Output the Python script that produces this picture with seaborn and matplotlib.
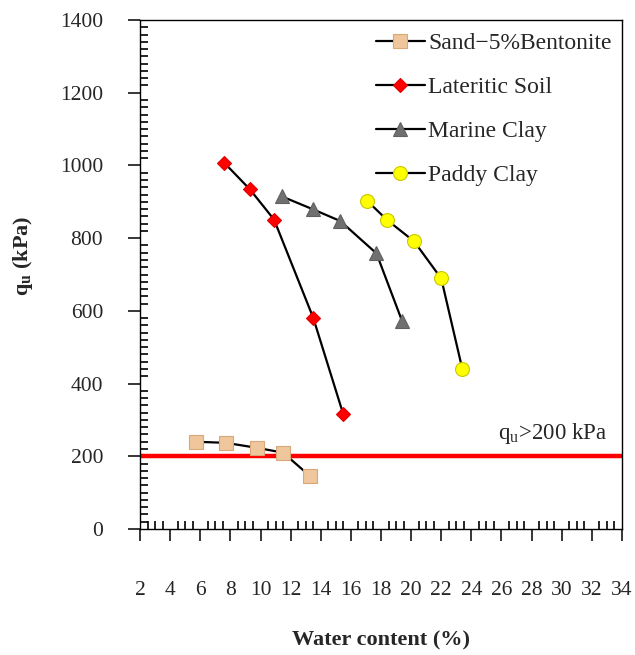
import matplotlib
matplotlib.use("Agg")
import matplotlib.pyplot as plt
import matplotlib.patheffects as pe
import seaborn as sns
import pandas as pd
from matplotlib.ticker import MultipleLocator

# ---- data ----
sand_w = [5.7, 7.7, 9.8, 11.5, 13.3]
sand_q = [240, 237, 223, 210, 145]

lat_w = [7.6, 9.3, 10.9, 13.5, 15.5]
lat_q = [1007, 934, 851, 581, 315]

mar_w = [11.4, 13.5, 15.3, 17.7, 19.4]
mar_q = [915, 879, 847, 758, 572]

pad_w = [17.1, 18.4, 20.2, 22.0, 23.4]
pad_q = [902, 850, 791, 689, 440]

labels = ["Sand\u22125%Bentonite", "Lateritic Soil", "Marine Clay", "Paddy Clay"]
x_ticks = list(range(2, 35, 2))
y_ticks = list(range(0, 1401, 200))
threshold = 200
threshold_label = r"q$_\mathregular{u}$>200 kPa"

sns.set_theme(style="white")
plt.rcParams["font.family"] = ["Liberation Serif", "DejaVu Serif"]
plt.rcParams["mathtext.fontset"] = "custom"
plt.rcParams["mathtext.rm"] = "Liberation Serif"
plt.rcParams["mathtext.bf"] = "Liberation Serif:bold"

fig = plt.figure(figsize=(6.35, 6.55), dpi=100)
ax = fig.add_axes([140/635, 1-529/655, (622-140)/635, (529-20)/655])

styles = [
    dict(marker="s", markersize=9.5, markerfacecolor="#F0C69C", markeredgecolor="#D8A878"),
    dict(marker="D", markersize=7, markerfacecolor="#FF0000", markeredgecolor="#E00000"),
    dict(marker="^", markersize=10.5, markerfacecolor="#707070", markeredgecolor="#606060"),
    dict(marker="o", markersize=10, markerfacecolor="#FFFF00", markeredgecolor="#C8C800"),
]
series = [(sand_w, sand_q), (lat_w, lat_q), (mar_w, mar_q), (pad_w, pad_q)]
for (w, q), lab, st in zip(series, labels, styles):
    df = pd.DataFrame({"w": w, "q": q})
    sns.lineplot(data=df, x="w", y="q", ax=ax, color="black", linewidth=1.6,
                 label=lab, markeredgewidth=0.8, **st)

ax.axhline(threshold, color="#FF0000", linewidth=3.2, zorder=1)
ax.text(29.4, 262, threshold_label, fontsize=16.5, ha="center", va="center")

ax.set_xlim(2, 34)
ax.set_ylim(0, 1400)
ax.set_xticks(x_ticks)
ax.set_yticks(y_ticks)
ax.xaxis.set_minor_locator(MultipleLocator(0.5))
ax.yaxis.set_minor_locator(MultipleLocator(20))
ax.tick_params(axis="both", which="major", direction="out", length=8.5, width=1.1,
               color="black", labelsize=15.5, bottom=True, left=True)
ax.tick_params(axis="x", which="major", pad=29)
ax.tick_params(axis="y", which="major", pad=18)
ax.tick_params(axis="both", which="minor", direction="in", length=5.5, width=1.2,
               color="black", bottom=True, left=True)
for s in ax.spines.values():
    s.set_color("black")
    s.set_linewidth(1.0)

ax.set_xlabel("Water content (%)", fontsize=16, fontweight="bold")
ax.set_ylabel(r"q$_\mathbf{u}$ (kPa)", fontsize=16, fontweight="bold")
ax.xaxis.set_label_coords(0.5, -0.2)
ax.yaxis.set_label_coords(-0.218, 0.536)

leg = ax.legend(loc="upper left", bbox_to_anchor=(0.49, 0.975), frameon=False,
                fontsize=17, borderpad=0, borderaxespad=0, labelspacing=0.95,
                handlelength=2.05, handletextpad=0.15)

fig.savefig("out.png", dpi=100)
